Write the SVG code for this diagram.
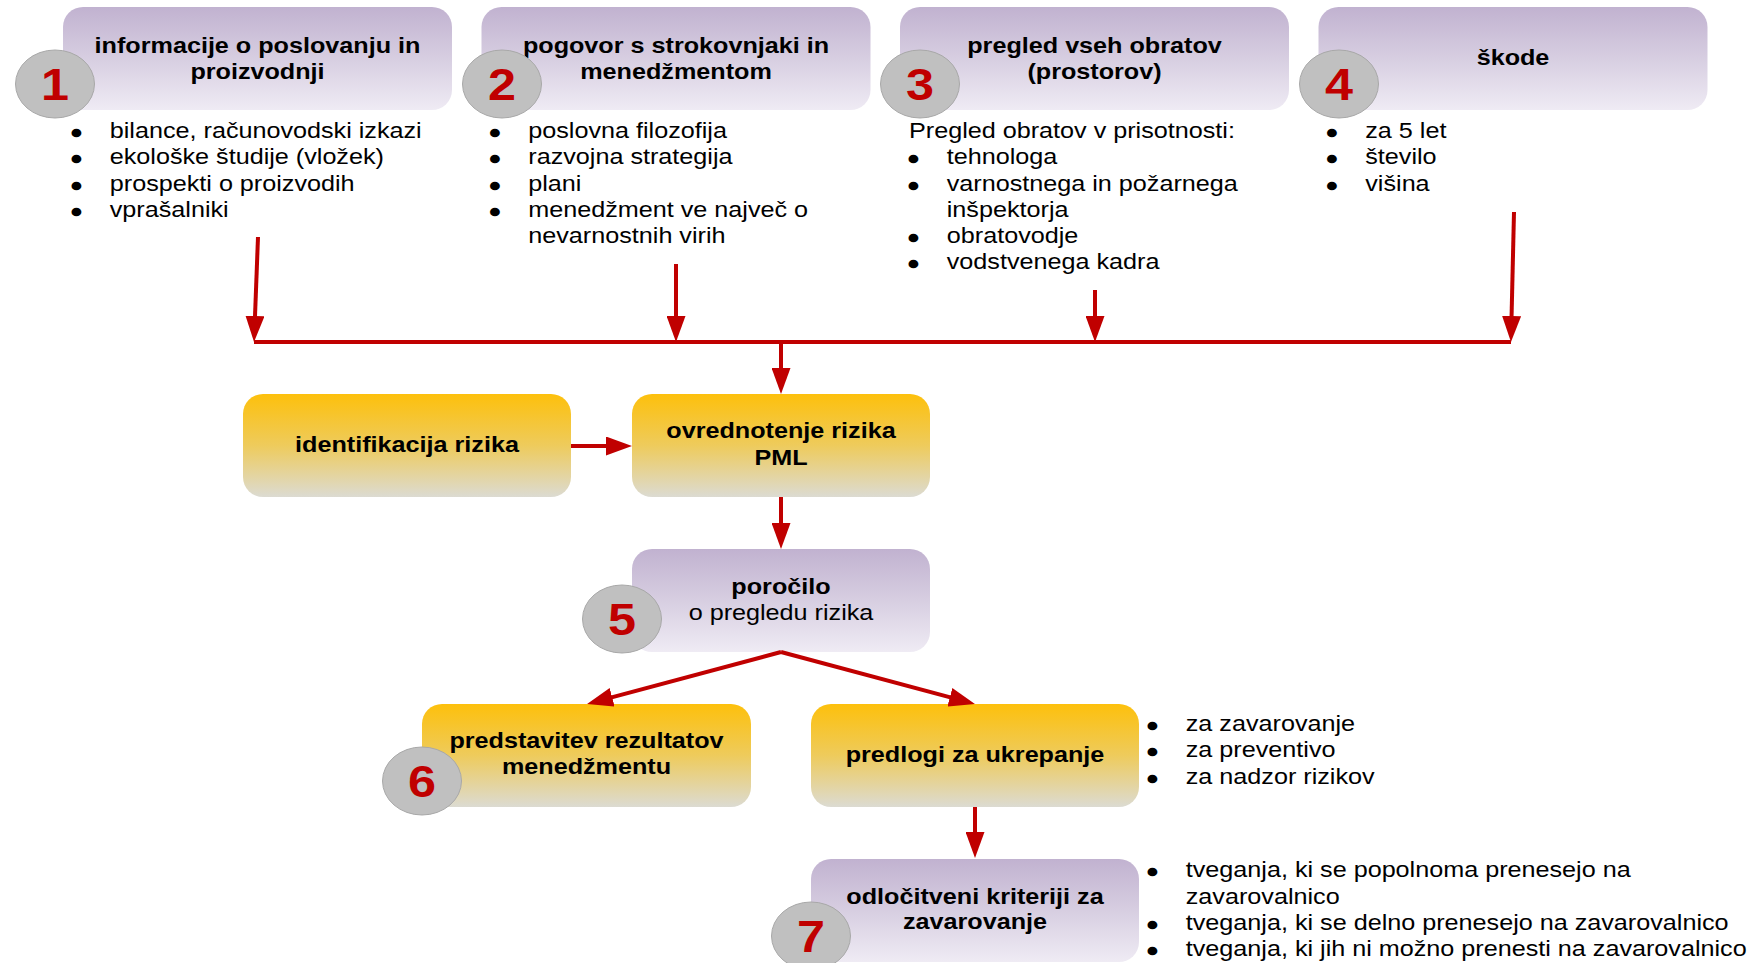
<svg xmlns="http://www.w3.org/2000/svg" width="1764" height="963" viewBox="0 0 1764 963">
<defs>
<linearGradient id="gp" x1="0" y1="0" x2="0" y2="1">
<stop offset="0" stop-color="#c1b2d0"/>
<stop offset="0.5" stop-color="#d7cee1"/>
<stop offset="1" stop-color="#efebf4"/>
</linearGradient>
<linearGradient id="gy" x1="0" y1="0" x2="0" y2="1">
<stop offset="0" stop-color="#fdc00c"/>
<stop offset="0.5" stop-color="#eecb5c"/>
<stop offset="1" stop-color="#dcdbd2"/>
</linearGradient>
<marker id="ah" viewBox="0 0 26 19" refX="16" refY="9.5" markerWidth="26" markerHeight="19" markerUnits="userSpaceOnUse" orient="auto">
<path d="M0,0 L26,9.5 L0,19 z" fill="#c00000"/>
</marker>
<style>
.bp{fill:url(#gp)}
.by{fill:url(#gy)}
.ci{fill:#c0c0c0;stroke:#a8a8a8;stroke-width:1}
.tt{font-family:"Liberation Sans",Arial,sans-serif;font-weight:bold;font-size:22px;fill:#000;text-anchor:middle}
.tr{font-family:"Liberation Sans",Arial,sans-serif;font-size:22px;fill:#000;text-anchor:middle}
.tb{font-family:"Liberation Sans",Arial,sans-serif;font-size:22px;fill:#000}
.bu{stroke:#000;stroke-width:2.6;stroke-linejoin:round}
.num{font-family:"Liberation Sans",Arial,sans-serif;font-weight:bold;font-size:44px;fill:#c00000;text-anchor:middle}
.cn{stroke:#c00000;stroke-width:4;fill:none}
</style>
</defs>
<rect x="0" y="0" width="1764" height="963" fill="#ffffff"/>

<g id="node1">
<rect class="bp" x="63" y="7" width="389" height="103" rx="20"/>
<g transform="translate(257.5,0) scale(1.145,1)"><text class="tt"><tspan x="0" y="53">informacije o poslovanju in</tspan><tspan x="0" y="79">proizvodnji</tspan></text></g>
<g transform="translate(72,0) scale(1.145,1)"><text class="tb">
<tspan class="bu" x="0" y="140">•</tspan><tspan x="33" y="138">bilance, računovodski izkazi</tspan>
<tspan class="bu" x="0" y="166.3">•</tspan><tspan x="33" y="164.3">ekološke študije (vložek)</tspan>
<tspan class="bu" x="0" y="192.6">•</tspan><tspan x="33" y="190.6">prospekti o proizvodih</tspan>
<tspan class="bu" x="0" y="218.9">•</tspan><tspan x="33" y="216.9">vprašalniki</tspan>
</text></g>
<ellipse class="ci" cx="55" cy="84" rx="39.5" ry="34"/>
<g transform="translate(55,100) scale(1.145,1)"><text class="num" x="0" y="0">1</text></g>
</g>

<g id="node2">
<rect class="bp" x="481.5" y="7" width="389" height="103" rx="20"/>
<g transform="translate(676,0) scale(1.145,1)"><text class="tt"><tspan x="0" y="53">pogovor s strokovnjaki in</tspan><tspan x="0" y="79">menedžmentom</tspan></text></g>
<g transform="translate(490.5,0) scale(1.145,1)"><text class="tb">
<tspan class="bu" x="0" y="140">•</tspan><tspan x="33" y="138">poslovna filozofija</tspan>
<tspan class="bu" x="0" y="166.3">•</tspan><tspan x="33" y="164.3">razvojna strategija</tspan>
<tspan class="bu" x="0" y="192.6">•</tspan><tspan x="33" y="190.6">plani</tspan>
<tspan class="bu" x="0" y="218.9">•</tspan><tspan x="33" y="216.9">menedžment ve največ o</tspan>
<tspan x="33" y="243.2">nevarnostnih virih</tspan>
</text></g>
<ellipse class="ci" cx="502" cy="84" rx="39.5" ry="34"/>
<g transform="translate(502,100) scale(1.145,1)"><text class="num" x="0" y="0">2</text></g>
</g>

<g id="node3">
<rect class="bp" x="900" y="7" width="389" height="103" rx="20"/>
<g transform="translate(1094.5,0) scale(1.145,1)"><text class="tt"><tspan x="0" y="53">pregled vseh obratov</tspan><tspan x="0" y="79">(prostorov)</tspan></text></g>
<g transform="translate(909,0) scale(1.145,1)"><text class="tb">
<tspan x="0" y="138">Pregled obratov v prisotnosti:</tspan>
<tspan class="bu" x="0" y="166.3">•</tspan><tspan x="33" y="164.3">tehnologa</tspan>
<tspan class="bu" x="0" y="192.6">•</tspan><tspan x="33" y="190.6">varnostnega in požarnega</tspan>
<tspan x="33" y="216.9">inšpektorja</tspan>
<tspan class="bu" x="0" y="245.2">•</tspan><tspan x="33" y="243.2">obratovodje</tspan>
<tspan class="bu" x="0" y="271.5">•</tspan><tspan x="33" y="269.5">vodstvenega kadra</tspan>
</text></g>
<ellipse class="ci" cx="920" cy="84" rx="39.5" ry="34"/>
<g transform="translate(920,100) scale(1.145,1)"><text class="num" x="0" y="0">3</text></g>
</g>

<g id="node4">
<rect class="bp" x="1318.5" y="7" width="389" height="103" rx="20"/>
<g transform="translate(1513,0) scale(1.145,1)"><text class="tt"><tspan x="0" y="65">škode</tspan></text></g>
<g transform="translate(1327.5,0) scale(1.145,1)"><text class="tb">
<tspan class="bu" x="0" y="140">•</tspan><tspan x="33" y="138">za 5 let</tspan>
<tspan class="bu" x="0" y="166.3">•</tspan><tspan x="33" y="164.3">število</tspan>
<tspan class="bu" x="0" y="192.6">•</tspan><tspan x="33" y="190.6">višina</tspan>
</text></g>
<ellipse class="ci" cx="1339" cy="84" rx="39.5" ry="34"/>
<g transform="translate(1339,100) scale(1.145,1)"><text class="num" x="0" y="0">4</text></g>
</g>

<g id="identifikacija">
<rect class="by" x="243" y="394" width="328" height="103" rx="20"/>
<g transform="translate(407,0) scale(1.145,1)"><text class="tt"><tspan x="0" y="452">identifikacija rizika</tspan></text></g>
</g>

<g id="ovrednotenje">
<rect class="by" x="632" y="394" width="298" height="103" rx="20"/>
<g transform="translate(781,0) scale(1.145,1)"><text class="tt"><tspan x="0" y="438">ovrednotenje rizika</tspan><tspan x="0" y="465">PML</tspan></text></g>
</g>

<g id="node5">
<rect class="bp" x="632" y="549" width="298" height="103" rx="20"/>
<g transform="translate(781,0) scale(1.145,1)"><text class="tt"><tspan x="0" y="594">poročilo</tspan></text><text class="tr"><tspan x="0" y="620">o pregledu rizika</tspan></text></g>
<ellipse class="ci" cx="622" cy="619" rx="39.5" ry="34"/>
<g transform="translate(622,635) scale(1.145,1)"><text class="num" x="0" y="0">5</text></g>
</g>

<g id="node6">
<rect class="by" x="422" y="704" width="329" height="103" rx="20"/>
<g transform="translate(586.5,0) scale(1.145,1)"><text class="tt"><tspan x="0" y="748">predstavitev rezultatov</tspan><tspan x="0" y="774">menedžmentu</tspan></text></g>
<ellipse class="ci" cx="422" cy="781" rx="39.5" ry="34"/>
<g transform="translate(422,797) scale(1.145,1)"><text class="num" x="0" y="0">6</text></g>
</g>

<g id="predlogi">
<rect class="by" x="811" y="704" width="328" height="103" rx="20"/>
<g transform="translate(975,0) scale(1.145,1)"><text class="tt"><tspan x="0" y="762">predlogi za ukrepanje</tspan></text></g>
<g transform="translate(1148,0) scale(1.145,1)"><text class="tb">
<tspan class="bu" x="0" y="733">•</tspan><tspan x="33" y="731">za zavarovanje</tspan>
<tspan class="bu" x="0" y="759.5">•</tspan><tspan x="33" y="757.5">za preventivo</tspan>
<tspan class="bu" x="0" y="786">•</tspan><tspan x="33" y="784">za nadzor rizikov</tspan>
</text></g>
</g>

<g id="node7">
<rect class="bp" x="811" y="859" width="328" height="103" rx="20"/>
<g transform="translate(975,0) scale(1.145,1)"><text class="tt"><tspan x="0" y="904">odločitveni kriteriji za</tspan><tspan x="0" y="929">zavarovanje</tspan></text></g>
<g transform="translate(1148,0) scale(1.145,1)"><text class="tb">
<tspan class="bu" x="0" y="879.5">•</tspan><tspan x="33" y="877.5">tveganja, ki se popolnoma prenesejo na</tspan>
<tspan x="33" y="904">zavarovalnico</tspan>
<tspan class="bu" x="0" y="932">•</tspan><tspan x="33" y="930">tveganja, ki se delno prenesejo na zavarovalnico</tspan>
<tspan class="bu" x="0" y="958">•</tspan><tspan x="33" y="956">tveganja, ki jih ni možno prenesti na zavarovalnico</tspan>
</text></g>
<ellipse class="ci" cx="811" cy="936" rx="39.5" ry="34"/>
<g transform="translate(811,952) scale(1.145,1)"><text class="num" x="0" y="0">7</text></g>
</g>

<g id="connectors">
<line class="cn" x1="258" y1="237" x2="254.4" y2="332" marker-end="url(#ah)"/>
<line class="cn" x1="676" y1="264" x2="676" y2="332" marker-end="url(#ah)"/>
<line class="cn" x1="1095" y1="290" x2="1095" y2="332" marker-end="url(#ah)"/>
<line class="cn" x1="1514" y1="212" x2="1511.2" y2="332" marker-end="url(#ah)"/>
<line class="cn" x1="254" y1="342" x2="1511" y2="342"/>
<line class="cn" x1="781" y1="342" x2="781" y2="384" marker-end="url(#ah)"/>
<line class="cn" x1="571" y1="446" x2="622" y2="446" marker-end="url(#ah)"/>
<line class="cn" x1="781" y1="497" x2="781" y2="539" marker-end="url(#ah)"/>
<line class="cn" x1="781" y1="652" x2="596.7" y2="701.4" marker-end="url(#ah)"/>
<line class="cn" x1="781" y1="652" x2="965.3" y2="701.4" marker-end="url(#ah)"/>
<line class="cn" x1="975" y1="807" x2="975" y2="848" marker-end="url(#ah)"/>
</g>
</svg>
